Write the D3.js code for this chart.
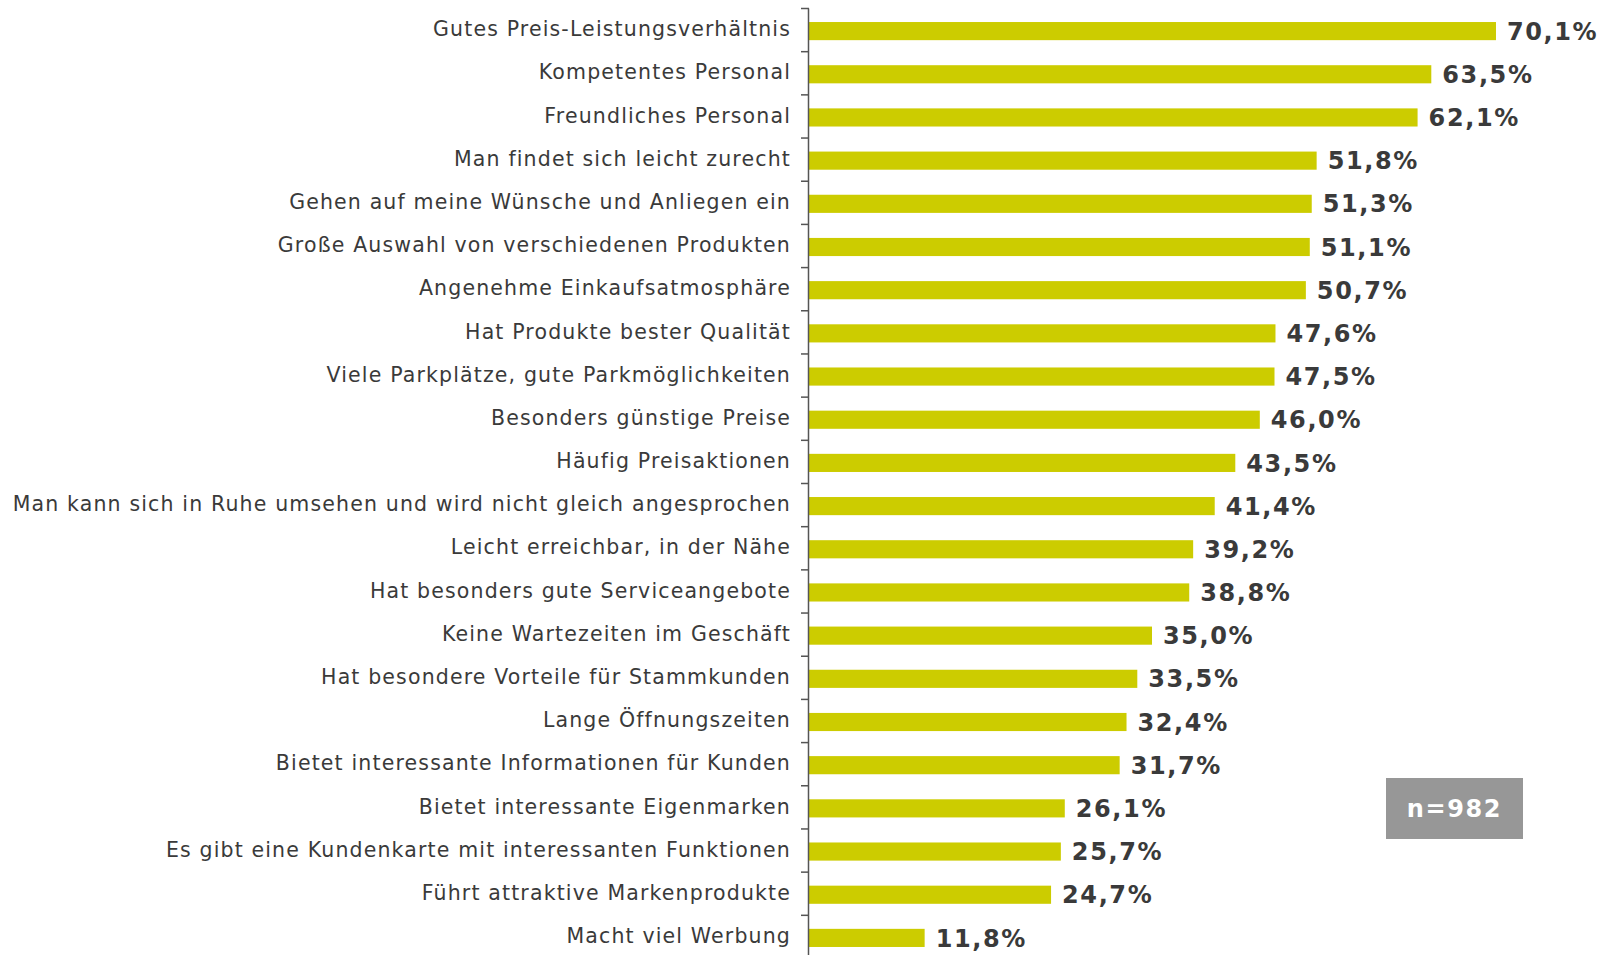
<!DOCTYPE html>
<meta charset="utf-8">
<script src="https://d3js.org/d3.v7.min.js"></script>
<style>
  body { margin: 0; background: #fff; }
</style>
<div id="chart"></div>
<script>

  // categories, top to bottom
  var categories = [
    "Gutes Preis-Leistungsverhältnis",
    "Kompetentes Personal",
    "Freundliches Personal",
    "Man findet sich leicht zurecht",
    "Gehen auf meine Wünsche und Anliegen ein",
    "Große Auswahl von verschiedenen Produkten",
    "Angenehme Einkaufsatmosphäre",
    "Hat Produkte bester Qualität",
    "Viele Parkplätze, gute Parkmöglichkeiten",
    "Besonders günstige Preise",
    "Häufig Preisaktionen",
    "Man kann sich in Ruhe umsehen und wird nicht gleich angesprochen",
    "Leicht erreichbar, in der Nähe",
    "Hat besonders gute Serviceangebote",
    "Keine Wartezeiten im Geschäft",
    "Hat besondere Vorteile für Stammkunden",
    "Lange Öffnungszeiten",
    "Bietet interessante Informationen für Kunden",
    "Bietet interessante Eigenmarken",
    "Es gibt eine Kundenkarte mit interessanten Funktionen",
    "Führt attraktive Markenprodukte",
    "Macht viel Werbung"
  ];

  // share in percent
  var values = [70.1, 63.5, 62.1, 51.8, 51.3, 51.1, 50.7, 47.6, 47.5, 46.0, 43.5,
                41.4, 39.2, 38.8, 35.0, 33.5, 32.4, 31.7, 26.1, 25.7, 24.7, 11.8];

  var sampleNote = "n=982";

  var data = categories.map(function (c, i) { return { cat: c, value: values[i] }; });

  var width = 1605, height = 955;
  var axisX = 809;

  var svg = d3.select("#chart")
    .append("svg")
    .attr("width", width)
    .attr("height", height);

  // scales
  var x = d3.scaleLinear()
    .domain([0, 100])
    .range([axisX, axisX + 980]);

  var y = d3.scaleBand()
    .domain(categories)
    .range([8.5, 958.5])
    .paddingInner(0.58)
    .paddingOuter(0.29);

  // bars
  svg.append("g")
    .selectAll("rect")
    .data(data)
    .enter()
    .append("rect")
    .attr("x", x(0))
    .attr("y", function (d) { return y(d.cat) + 1; })
    .attr("width", function (d) { return x(d.value) - x(0); })
    .attr("height", y.bandwidth())
    .style("fill", "#cccc00");

  // value labels
  svg.append("g")
    .selectAll("text")
    .data(data)
    .enter()
    .append("text")
    .attr("x", function (d) { return x(d.value) + 11; })
    .attr("y", function (d) { return y(d.cat) + y.bandwidth() / 2 + 1; })
    .attr("dy", "0.36em")
    .text(function (d) { return d3.format(".1f")(d.value).replace(".", ",") + "%"; })
    .style("font-family", "'DejaVu Sans', Verdana, sans-serif")
    .style("font-weight", "bold")
    .style("font-size", "24px")
    .style("letter-spacing", "1.6px")
    .style("fill", "#3a3a3a");

  // y axis: category labels
  var yAxis = svg.append("g")
    .attr("transform", "translate(" + axisX + ",0)")
    .call(d3.axisLeft(y).tickSize(0).tickPadding(18));
  yAxis.select(".domain").remove();
  yAxis.selectAll("text")
    .attr("dy", "0.3em")
    .style("font-family", "'DejaVu Sans', Verdana, sans-serif")
    .style("font-size", "20.5px")
    .style("letter-spacing", "1.15px")
    .style("fill", "#3a3a3a");

  // axis line and ticks between the categories
  var step = y.step();
  var bounds = d3.range(categories.length).map(function (i) {
    return y(categories[i]) - step * y.paddingInner() / 2;
  });
  svg.append("line")
    .attr("x1", axisX - 0.5).attr("x2", axisX - 0.5)
    .attr("y1", bounds[0]).attr("y2", height)
    .style("stroke", "#555").style("stroke-width", 1.5);
  svg.append("g")
    .selectAll("line")
    .data(bounds)
    .enter()
    .append("line")
    .attr("x1", axisX - 8).attr("x2", axisX)
    .attr("y1", function (d) { return d; })
    .attr("y2", function (d) { return d; })
    .style("stroke", "#555").style("stroke-width", 1.5);

  // sample size box
  svg.append("rect")
    .attr("x", 1386).attr("y", 778)
    .attr("width", 137).attr("height", 61)
    .style("fill", "#979797");
  svg.append("text")
    .attr("x", 1386 + 137 / 2).attr("y", 778 + 61 / 2)
    .attr("dy", "0.36em")
    .attr("text-anchor", "middle")
    .text(sampleNote)
    .style("font-family", "'DejaVu Sans', Verdana, sans-serif")
    .style("font-weight", "bold")
    .style("font-size", "24px")
    .style("letter-spacing", "1.6px")
    .style("fill", "#fff");

</script>
